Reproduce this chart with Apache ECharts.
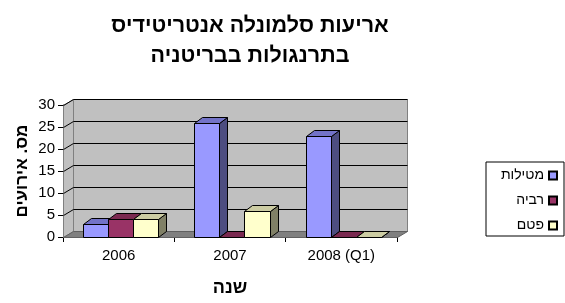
<!DOCTYPE html>
<html><head><meta charset="utf-8">
<script src="https://cdn.jsdelivr.net/npm/echarts@6/dist/echarts.min.js"></script>
<style>html,body{margin:0;padding:0;background:#fff}#c{width:565px;height:303px}</style>
</head><body><div id="c"></div>
<script>
const titleText = 'אריעות סלמונלה אנטריטידיס\nבתרנגולות בבריטניה';
const categories = ['2006', '2007', '2008 (Q1)'];
const seriesNames = ['מטילות', 'רביה', 'פטם'];
const layers = [3, 26, 23];
const breeders = [4, 0, 0];
const broilers = [4, 6, 0];
const yTicks = [0, 5, 10, 15, 20, 25, 30];
const yName = 'מס. אירועים';
const xName = 'שנה';

const palette = [
  {front: '#9999ff', top: '#7373c8', side: '#4d4d80'},
  {front: '#993366', top: '#7a2950', side: '#4d1a33'},
  {front: '#ffffcc', top: '#cccca3', side: '#808066'}
];
const DX = 8, DY = 6, WDX = 10, WDY = 6;
const r = v => Math.round(v) + 0.5;
const FONT = 'Liberation Sans, Arial';

function barRenderer(s) {
  const c = palette[s];
  return function (params, api) {
    const cat = api.value(0), v = api.value(1);
    const top = api.coord([cat, v]);
    const base = api.coord([cat, 0]);
    const bw = api.size([1, 0])[0];
    const barW = bw * 0.225;
    const x0 = r(base[0] - bw / 2 + bw * 0.18 + s * barW);
    const x1 = r(base[0] - bw / 2 + bw * 0.18 + (s + 1) * barW);
    const yT = r(top[1]), yB = r(base[1]);
    return {
      type: 'group',
      children: [
        {type: 'polygon', shape: {points: [[x1, yT], [x1 + DX, yT - DY], [x1 + DX, yB - DY], [x1, yB]]},
          style: {fill: c.side, stroke: '#000', lineWidth: 1}},
        {type: 'polygon', shape: {points: [[x0, yT], [x1, yT], [x1 + DX, yT - DY], [x0 + DX, yT - DY]]},
          style: {fill: c.top, stroke: '#000', lineWidth: 1}},
        {type: 'rect', shape: {x: x0, y: yT, width: x1 - x0, height: yB - yT},
          style: {fill: c.front, stroke: '#000', lineWidth: 1}}
      ]
    };
  };
}

function decorRenderer(params, api) {
  const bw = api.size([1, 0])[0];
  const xl = r(api.coord([0, 0])[0] - bw / 2);
  const xr = r(api.coord([categories.length - 1, 0])[0] + bw / 2);
  const y0 = r(api.coord([0, 0])[1]);
  const yTop = r(api.coord([0, yTicks[yTicks.length - 1]])[1]);
  const ch = [];
  ch.push({type: 'rect', shape: {x: xl + WDX, y: yTop - WDY, width: xr - xl, height: y0 - yTop},
    style: {fill: '#c0c0c0', stroke: '#808080', lineWidth: 1}});
  ch.push({type: 'polygon', shape: {points: [[xl, yTop], [xl + WDX, yTop - WDY], [xl + WDX, y0 - WDY], [xl, y0]]},
    style: {fill: '#c0c0c0', stroke: '#808080', lineWidth: 1}});
  ch.push({type: 'polygon', shape: {points: [[xl, y0], [xr, y0], [xr + WDX, y0 - WDY], [xl + WDX, y0 - WDY]]},
    style: {fill: '#808080', stroke: '#606060', lineWidth: 1}});
  yTicks.forEach(t => {
    if (t === 0) return;
    const y = r(api.coord([0, t])[1]);
    ch.push({type: 'line', shape: {x1: xl + WDX, y1: y - WDY, x2: xr + WDX, y2: y - WDY}, style: {stroke: '#000', lineWidth: 1}});
    ch.push({type: 'line', shape: {x1: xl, y1: y, x2: xl + WDX, y2: y - WDY}, style: {stroke: '#000', lineWidth: 1}});
  });
  return {type: 'group', children: ch};
}

const dataSets = [layers, breeders, broilers];
const series = [{
  type: 'custom', name: 'decor', silent: true, z: 1, clip: false,
  renderItem: decorRenderer, data: [[0, 0]], encode: {x: 0, y: 1}
}];
dataSets.forEach((arr, s) => {
  series.push({
    type: 'custom', name: seriesNames[s], z: 2 + s, clip: false,
    itemStyle: {color: palette[s].front, borderColor: '#000', borderWidth: 1},
    renderItem: barRenderer(s),
    data: arr.map((v, i) => [i, v]),
    encode: {x: 0, y: 1}
  });
});

const chart = echarts.init(document.getElementById('c'), null, {renderer: 'canvas'});
chart.setOption({
  animation: false,
  backgroundColor: '#fff',
  title: {
    text: titleText, left: 245, top: 6, textAlign: 'center',
    textStyle: {fontFamily: FONT, fontSize: 21.5, fontWeight: 'bold', color: '#000', lineHeight: 30}
  },
  legend: {
    data: seriesNames, orient: 'vertical', right: 1, top: 162, align: 'right',
    icon: 'rect', itemWidth: 8, itemHeight: 8, itemGap: 10,
    padding: [6, 6, 3, 12], borderColor: '#000', borderWidth: 1,
    textStyle: {fontFamily: FONT, fontSize: 14, color: '#000', width: 46, lineHeight: 15, align: 'right'}
  },
  grid: {left: 63, right: 168, top: 105, bottom: 66},
  xAxis: {
    type: 'category', data: categories, boundaryGap: true,
    name: xName, nameLocation: 'middle', nameGap: 42, nameMoveOverlap: false,
    nameTextStyle: {fontFamily: FONT, fontSize: 18, fontWeight: 'bold', color: '#000'},
    axisLine: {show: true, lineStyle: {color: '#000'}},
    axisTick: {show: true, length: 5, lineStyle: {color: '#000'}},
    axisLabel: {fontFamily: FONT, fontSize: 15, color: '#000', margin: 11},
    splitLine: {show: false}
  },
  yAxis: {
    type: 'value', min: 0, max: 30, interval: 5,
    name: yName, nameLocation: 'middle', nameGap: 32, nameRotate: 90, nameMoveOverlap: false,
    nameTextStyle: {fontFamily: FONT, fontSize: 17, fontWeight: 'bold', color: '#000'},
    axisLine: {show: true, lineStyle: {color: '#000'}},
    axisTick: {show: true, length: 5, lineStyle: {color: '#000'}},
    axisLabel: {fontFamily: FONT, fontSize: 15, color: '#000', margin: 8},
    splitLine: {show: false}
  },
  series: series
});
</script></body></html>
